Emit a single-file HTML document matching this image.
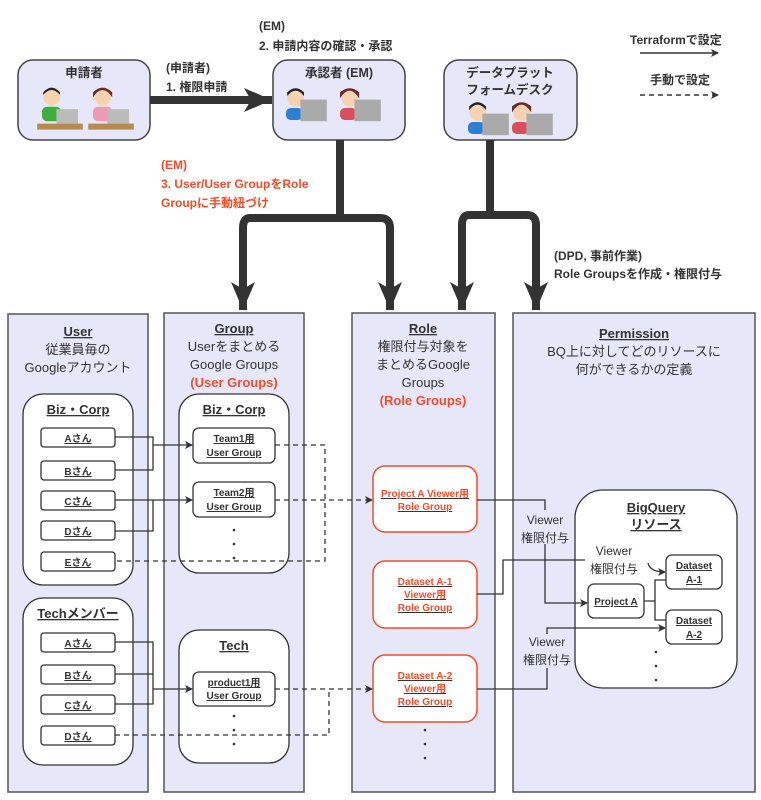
<!DOCTYPE html>
<html><head><meta charset="utf-8"><style>
body{margin:0;background:#fff;}
svg{display:block;font-family:"Liberation Sans","Noto Sans CJK JP",sans-serif;}
</style></head><body>
<svg width="761" height="800" viewBox="0 0 761 800" xmlns="http://www.w3.org/2000/svg">
<defs>
<marker id="ah" markerWidth="8" markerHeight="8" refX="7" refY="4" orient="auto" markerUnits="userSpaceOnUse"><path d="M0,0 L8,4 L0,8 L2,4z" fill="#333"/></marker>
<marker id="big" markerWidth="30" markerHeight="24" refX="28" refY="12" orient="auto" markerUnits="userSpaceOnUse"><path d="M0,0 L28,12 L0,24 L7,12z" fill="#333"/></marker>
</defs>
<g fill="#333" font-size="12.5" font-weight="bold">
<rect x="18" y="60" width="132" height="80" rx="15" fill="#e6e8fa" stroke="#444" stroke-width="1.5"/>
<text x="84" y="77" text-anchor="middle">申請者</text>
<rect x="273" y="60" width="132" height="80" rx="15" fill="#e6e8fa" stroke="#444" stroke-width="1.5"/>
<text x="339" y="77" text-anchor="middle">承認者 (EM)</text>
<rect x="444" y="60" width="133" height="80" rx="15" fill="#e6e8fa" stroke="#444" stroke-width="1.5"/>
<text x="510" y="77" text-anchor="middle">データプラット</text>
<text x="510" y="94" text-anchor="middle">フォームデスク</text>
</g>
<g>
<g transform="translate(42,90) scale(1.2)"><circle cx="8" cy="6" r="7" fill="#f6d2b0"/><path d="M1,4 Q8,-4 15,4 L15,2 Q8,-6 1,2z" fill="#222"/><rect x="0" y="14" width="16" height="12" rx="4" fill="#3fae3f"/><rect x="12" y="16" width="18" height="12" fill="#bbb"/><rect x="-4" y="28" width="38" height="5" fill="#b78a4e"/></g>
<g transform="translate(93,90) scale(1.2)"><circle cx="8" cy="6" r="7" fill="#f6d2b0"/><path d="M0,6 Q8,-6 16,6 L16,2 Q8,-6 0,2z" fill="#6b2a2a"/><rect x="0" y="14" width="16" height="12" rx="4" fill="#ef9ab5"/><rect x="12" y="16" width="18" height="12" fill="#bbb"/><rect x="-4" y="28" width="38" height="5" fill="#b78a4e"/></g>
<g transform="translate(286,90) scale(1.2)"><circle cx="8" cy="7" r="7" fill="#f6d2b0"/><path d="M1,5 Q8,-4 15,5 L15,2 Q8,-5 1,2z" fill="#222"/><rect x="0" y="15" width="14" height="10" rx="4" fill="#2f7fd0"/><rect x="12" y="8" width="22" height="18" fill="#aaa"/></g>
<g transform="translate(340,90) scale(1.2)"><circle cx="8" cy="7" r="7" fill="#f6d2b0"/><path d="M0,7 Q8,-6 16,7 L16,2 Q8,-5 0,2z" fill="#6b2a2a"/><rect x="0" y="15" width="14" height="10" rx="4" fill="#d94f5c"/><rect x="12" y="8" width="22" height="18" fill="#aaa"/></g>
<g transform="translate(468,104) scale(1.2)"><circle cx="8" cy="7" r="7" fill="#f6d2b0"/><path d="M1,5 Q8,-4 15,5 L15,2 Q8,-5 1,2z" fill="#222"/><rect x="0" y="15" width="14" height="10" rx="4" fill="#2f7fd0"/><rect x="12" y="8" width="22" height="18" fill="#aaa"/></g>
<g transform="translate(512,104) scale(1.2)"><circle cx="8" cy="7" r="7" fill="#f6d2b0"/><path d="M0,7 Q8,-6 16,7 L16,2 Q8,-5 0,2z" fill="#6b2a2a"/><rect x="0" y="15" width="14" height="10" rx="4" fill="#d94f5c"/><rect x="12" y="8" width="22" height="18" fill="#aaa"/></g>
</g>
<g fill="none" stroke="#333" stroke-width="8">
<line x1="150" y1="100" x2="272" y2="100" marker-end="url(#big)"/>
<path d="M340,140 V218"/>
<path d="M250,218 H380 Q390,218 390,228 V310" marker-end="url(#big)"/>
<path d="M250,218 Q243,218 243,228 V310" marker-end="url(#big)"/>
<path d="M490,140 V215"/>
<path d="M469,215 H527 Q536,215 536,225 V310" marker-end="url(#big)"/>
<path d="M469,215 Q462,215 462,225 V310" marker-end="url(#big)"/>
</g>
<g font-size="12" font-weight="bold" fill="#333">
<text x="166" y="72">(申請者)</text><text x="166" y="91">1. 権限申請</text>
<text x="259" y="30">(EM)</text><text x="259" y="50">2. 申請内容の確認・承認</text>
<g fill="#f04e2a"><text x="161" y="169">(EM)</text><text x="161" y="188">3. User/User GroupをRole</text><text x="161" y="207">Groupに手動紐づけ</text></g>
<text x="554" y="260">(DPD, 事前作業)</text><text x="554" y="278">Role Groupsを作成・権限付与</text>
<text x="630" y="44">Terraformで設定</text>
<text x="650" y="84">手動で設定</text>
</g>
<line x1="640" y1="53" x2="718" y2="53" stroke="#333" stroke-width="1.5" marker-end="url(#ah)"/>
<line x1="640" y1="95" x2="718" y2="95" stroke="#333" stroke-width="1.5" stroke-dasharray="5,4" marker-end="url(#ah)"/>
<g fill="#e6e8fa" stroke="#555" stroke-width="1.5">
<rect x="8" y="314" width="140" height="478"/>
<rect x="164" y="313" width="140" height="479"/>
<rect x="352" y="313" width="143" height="479"/>
<rect x="513" y="313" width="242" height="479"/>
</g>
<g font-size="13" text-anchor="middle" fill="#333">
<text x="78" y="336" font-weight="bold" text-decoration="underline">User</text>
<text x="78" y="354">従業員毎の</text><text x="78" y="372">Googleアカウント</text>
<text x="234" y="333" font-weight="bold" text-decoration="underline">Group</text>
<text x="234" y="351">Userをまとめる</text><text x="234" y="369">Google Groups</text>
<text x="234" y="387" font-weight="bold" fill="#f04e2a">(User Groups)</text>
<text x="423" y="333" font-weight="bold" text-decoration="underline">Role</text>
<text x="423" y="351">権限付与対象を</text><text x="423" y="369">まとめるGoogle</text><text x="423" y="387">Groups</text>
<text x="423" y="405" font-weight="bold" fill="#f04e2a">(Role Groups)</text>
<text x="634" y="338" font-weight="bold" text-decoration="underline">Permission</text>
<text x="634" y="356">BQ上に対してどのリソースに</text><text x="634" y="374">何ができるかの定義</text>
</g>
<g fill="#fff" stroke="#333" stroke-width="1.3">
<rect x="23" y="394" width="110" height="191" rx="20"/>
<rect x="23" y="598" width="110" height="167" rx="20"/>
<rect x="179" y="394" width="110" height="179" rx="20"/>
<rect x="179" y="630" width="110" height="133" rx="20"/>
<rect x="575" y="490" width="162" height="198" rx="28"/>
</g>
<g font-size="13" font-weight="bold" text-anchor="middle" fill="#333" text-decoration="underline">
<text x="78" y="414">Biz・Corp</text>
<text x="78" y="618">Techメンバー</text>
<text x="234" y="414">Biz・Corp</text>
<text x="234" y="650">Tech</text>
<text x="656" y="512">BigQuery</text><text x="656" y="529">リソース</text>
</g>
<g fill="#fff" stroke="#333" stroke-width="1.3">
<rect x="41" y="428" width="74" height="19" rx="3"/><rect x="41" y="461" width="74" height="19" rx="3"/>
<rect x="41" y="491" width="74" height="19" rx="3"/><rect x="41" y="521" width="74" height="19" rx="3"/>
<rect x="41" y="552" width="74" height="19" rx="3"/>
<rect x="41" y="633" width="74" height="19" rx="3"/><rect x="41" y="665" width="74" height="19" rx="3"/>
<rect x="41" y="695" width="74" height="19" rx="3"/><rect x="41" y="726" width="74" height="19" rx="3"/>
<rect x="193" y="428" width="82" height="35" rx="6"/><rect x="193" y="482" width="82" height="35" rx="6"/>
<rect x="193" y="672" width="82" height="34" rx="6"/>
<rect x="588" y="584" width="56" height="34" rx="6"/>
<rect x="666" y="555" width="56" height="34" rx="6"/><rect x="666" y="610" width="56" height="34" rx="6"/>
</g>
<g fill="#fff" stroke="#f04e2a" stroke-width="1.5">
<rect x="373" y="466" width="104" height="66" rx="12"/>
<rect x="373" y="561" width="104" height="67" rx="12"/>
<rect x="373" y="655" width="104" height="67" rx="12"/>
</g>
<g font-size="10" font-weight="bold" text-anchor="middle" fill="#333" text-decoration="underline">
<text x="78" y="442">Aさん</text><text x="78" y="475">Bさん</text><text x="78" y="505">Cさん</text><text x="78" y="535">Dさん</text><text x="78" y="566">Eさん</text>
<text x="78" y="647">Aさん</text><text x="78" y="679">Bさん</text><text x="78" y="709">Cさん</text><text x="78" y="740">Dさん</text>
<text x="234" y="442">Team1用</text><text x="234" y="456">User Group</text>
<text x="234" y="496">Team2用</text><text x="234" y="510">User Group</text>
<text x="234" y="686">product1用</text><text x="234" y="699">User Group</text>
<text x="616" y="605">Project A</text>
<text x="694" y="569">Dataset</text><text x="694" y="583">A-1</text>
<text x="694" y="624">Dataset</text><text x="694" y="638">A-2</text>
<g fill="#f04e2a"><text x="425" y="497">Project A Viewer用</text><text x="425" y="510">Role Group</text>
<text x="425" y="585">Dataset A-1</text><text x="425" y="598">Viewer用</text><text x="425" y="611">Role Group</text>
<text x="425" y="679">Dataset A-2</text><text x="425" y="692">Viewer用</text><text x="425" y="705">Role Group</text></g>
</g>
<g fill="#333"><circle cx="234" cy="530" r="1.3"/><circle cx="234" cy="544" r="1.3"/><circle cx="234" cy="558" r="1.3"/>
<circle cx="234" cy="716" r="1.3"/><circle cx="234" cy="730" r="1.3"/><circle cx="234" cy="744" r="1.3"/>
<circle cx="425" cy="730" r="1.3"/><circle cx="425" cy="744" r="1.3"/><circle cx="425" cy="758" r="1.3"/>
<circle cx="656" cy="652" r="1.3"/><circle cx="656" cy="666" r="1.3"/><circle cx="656" cy="680" r="1.3"/></g>
<g fill="none" stroke="#333" stroke-width="1.3">
<path d="M115,437 H153 V470 H115"/>
<path d="M153,445 H192" marker-end="url(#ah)"/>
<path d="M153,500 V531 H115"/>
<path d="M115,500 H192" marker-end="url(#ah)"/>
<path d="M115,642 H153 V704 H115 M115,674 H153"/>
<path d="M153,689 H192" marker-end="url(#ah)"/>
<path d="M477,500 H545 V603 H587" marker-end="url(#ah)"/>
<path d="M477,594 H503 V560 H585"/>
<path d="M648,563 Q650,572 665,572" marker-end="url(#ah)"/>
<path d="M477,689 H547 V628 H665" marker-end="url(#ah)"/>
<path d="M644,601 H655 V580 H666 M655,601 V620 H666"/>
</g>
<g fill="none" stroke="#333" stroke-width="1.3" stroke-dasharray="5,4">
<path d="M275,445 H325 V561 H115"/>
<path d="M275,500 H372" marker-end="url(#ah)"/>
<path d="M275,689 H372" marker-end="url(#ah)"/>
<path d="M115,735 H329 V689"/>
</g>
<g font-size="12" text-anchor="middle" fill="#333">
<rect x="519" y="510" width="52" height="34" fill="#e6e8fa"/>
<text x="545" y="524">Viewer</text><text x="545" y="542">権限付与</text>
<rect x="588" y="543" width="58" height="34" fill="#fff"/>
<text x="614" y="555">Viewer</text><text x="614" y="573">権限付与</text>
<rect x="520" y="634" width="54" height="34" fill="#e6e8fa"/>
<text x="547" y="646">Viewer</text><text x="547" y="664">権限付与</text>
</g>
</svg>
</body></html>
